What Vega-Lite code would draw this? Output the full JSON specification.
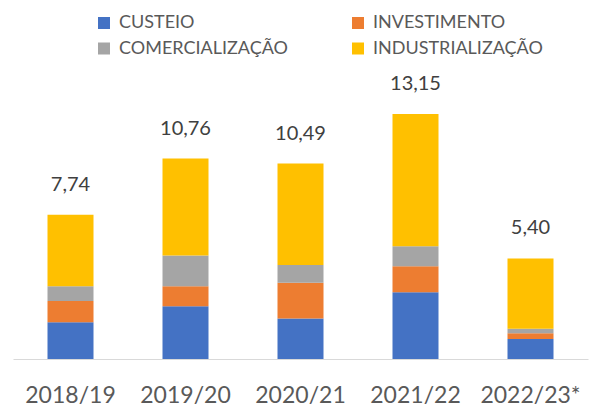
{
  "$schema": "https://vega.github.io/schema/vega-lite/v6.json",
  "width": 575,
  "height": 298,
  "autosize": "none",
  "padding": {"left": 13, "top": 61, "right": 8, "bottom": 48},
  "background": "white",
  "config": {"view": {"stroke": null}, "font": "Lato"},
  "datasets": {
    "parts": [
      {"periodo": "2018/19", "linha": "CUSTEIO", "k": 1, "valor": 1.97},
      {"periodo": "2018/19", "linha": "INVESTIMENTO", "k": 2, "valor": 1.15},
      {"periodo": "2018/19", "linha": "COMERCIALIZAÇÃO", "k": 3, "valor": 0.78},
      {"periodo": "2018/19", "linha": "INDUSTRIALIZAÇÃO", "k": 4, "valor": 3.84},
      {"periodo": "2019/20", "linha": "CUSTEIO", "k": 1, "valor": 2.83},
      {"periodo": "2019/20", "linha": "INVESTIMENTO", "k": 2, "valor": 1.08},
      {"periodo": "2019/20", "linha": "COMERCIALIZAÇÃO", "k": 3, "valor": 1.65},
      {"periodo": "2019/20", "linha": "INDUSTRIALIZAÇÃO", "k": 4, "valor": 5.20},
      {"periodo": "2020/21", "linha": "CUSTEIO", "k": 1, "valor": 2.18},
      {"periodo": "2020/21", "linha": "INVESTIMENTO", "k": 2, "valor": 1.92},
      {"periodo": "2020/21", "linha": "COMERCIALIZAÇÃO", "k": 3, "valor": 0.95},
      {"periodo": "2020/21", "linha": "INDUSTRIALIZAÇÃO", "k": 4, "valor": 5.44},
      {"periodo": "2021/22", "linha": "CUSTEIO", "k": 1, "valor": 3.58},
      {"periodo": "2021/22", "linha": "INVESTIMENTO", "k": 2, "valor": 1.40},
      {"periodo": "2021/22", "linha": "COMERCIALIZAÇÃO", "k": 3, "valor": 1.08},
      {"periodo": "2021/22", "linha": "INDUSTRIALIZAÇÃO", "k": 4, "valor": 7.09},
      {"periodo": "2022/23*", "linha": "CUSTEIO", "k": 1, "valor": 1.08},
      {"periodo": "2022/23*", "linha": "INVESTIMENTO", "k": 2, "valor": 0.30},
      {"periodo": "2022/23*", "linha": "COMERCIALIZAÇÃO", "k": 3, "valor": 0.24},
      {"periodo": "2022/23*", "linha": "INDUSTRIALIZAÇÃO", "k": 4, "valor": 3.78}
    ],
    "totais": [
      {"periodo": "2018/19", "total": 7.74, "rotulo": "7,74"},
      {"periodo": "2019/20", "total": 10.76, "rotulo": "10,76"},
      {"periodo": "2020/21", "total": 10.49, "rotulo": "10,49"},
      {"periodo": "2021/22", "total": 13.15, "rotulo": "13,15"},
      {"periodo": "2022/23*", "total": 5.40, "rotulo": "5,40"}
    ]
  },
  "encoding": {
    "x": {
      "field": "periodo", "type": "nominal", "sort": null,
      "scale": {"paddingInner": 0.6, "paddingOuter": 0.3},
      "axis": {
        "title": null, "labelAngle": 0, "ticks": false, "grid": false,
        "domainColor": "#D9D9D9", "domainWidth": 1,
        "labelFontSize": 23, "labelColor": "#595959", "labelPadding": 25,
        "labelFont": "Lato"
      }
    }
  },
  "layer": [
    {
      "data": {"name": "parts"},
      "mark": {"type": "bar"},
      "encoding": {
        "y": {
          "field": "valor", "type": "quantitative", "stack": "zero",
          "scale": {"domain": [0, 16], "nice": false},
          "axis": null
        },
        "color": {
          "field": "linha", "type": "nominal",
          "scale": {
            "domain": ["CUSTEIO", "INVESTIMENTO", "COMERCIALIZAÇÃO", "INDUSTRIALIZAÇÃO"],
            "range": ["#4472C4", "#ED7D31", "#A5A5A5", "#FFC000"]
          },
          "legend": {
            "title": null, "orient": "none", "legendX": 82, "legendY": -47,
            "direction": "horizontal", "columns": 2,
            "symbolType": "square", "symbolSize": 144, "symbolStrokeWidth": 0,
            "labelFontSize": 18, "labelColor": "#595959", "labelFont": "Lato",
            "labelOffset": 6, "rowPadding": 7.5, "columnPadding": 61, "labelLimit": 300
          }
        },
        "order": {"field": "k", "type": "quantitative"}
      }
    },
    {
      "data": {"name": "totais"},
      "mark": {"type": "text", "baseline": "alphabetic", "dy": -24, "fontSize": 20, "color": "#404040", "font": "Lato"},
      "encoding": {
        "y": {"field": "total", "type": "quantitative"},
        "text": {"field": "rotulo", "type": "nominal"}
      }
    }
  ]
}
